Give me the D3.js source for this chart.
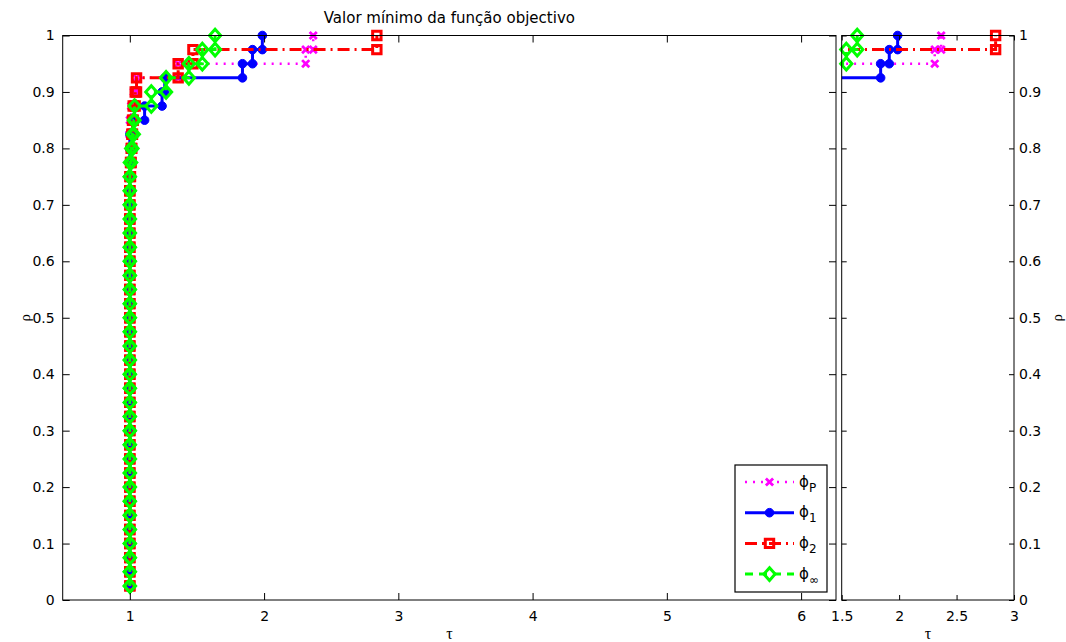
<!DOCTYPE html>
<html>
<head>
<meta charset="utf-8">
<script src="https://cdn.jsdelivr.net/npm/d3@7"></script>
<style>
body { margin: 0; background: #fff; }
svg { display: block; font-family: "DejaVu Sans", sans-serif; }
.axis path.domain { display: none; }
.axis line { stroke: #000; }
.axis text { font-size: 14px; fill: #000; font-family: "DejaVu Sans", sans-serif; }
</style>
</head>
<body>
<svg id="chart" width="1066" height="642"></svg>
<script>
// Performance profile: sorted performance ratios of each solver (40 problems)
const nProblems = 40;

const ratioP = [
    1, 1, 1, 1, 1, 1, 1, 1, 1, 1,
    1, 1, 1, 1, 1, 1, 1, 1, 1, 1,
    1, 1, 1, 1, 1, 1, 1, 1, 1, 1,
    1, 1, 1, 1, 1.01, 1.03, 1.05, 1.36, 2.31, 2.366
];
const ratio1 = [
    1, 1, 1, 1, 1, 1, 1, 1, 1, 1,
    1, 1, 1, 1, 1, 1, 1, 1, 1, 1,
    1, 1, 1, 1, 1, 1, 1, 1, 1, 1,
    1, 1, 1, 1.02, 1.11, 1.24, 1.26, 1.839, 1.914, 1.987
];
const ratio2 = [
    1, 1, 1, 1, 1, 1, 1, 1, 1, 1,
    1, 1, 1, 1, 1, 1, 1, 1, 1, 1,
    1, 1, 1, 1, 1, 1, 1, 1, 1, 1,
    1.005, 1.01, 1.015, 1.02, 1.025, 1.04, 1.05, 1.36, 1.47, 2.84
];
const ratioInf = [
    1, 1, 1, 1, 1, 1, 1, 1, 1, 1,
    1, 1, 1, 1, 1, 1, 1, 1, 1, 1,
    1, 1, 1, 1, 1, 1, 1, 1, 1, 1,
    1, 1.01, 1.02, 1.03, 1.035, 1.16, 1.27, 1.44, 1.54, 1.635
];

const seriesNames = ["P", "1", "2", "\u221e"];
const yTicks = [0, 0.1, 0.2, 0.3, 0.4, 0.5, 0.6, 0.7, 0.8, 0.9, 1];
const xTicksMain = [1, 2, 3, 4, 5, 6];
const xTicksZoom = [1.5, 2, 2.5, 3];
const titleText = "Valor m\u00ednimo da fun\u00e7\u00e3o objectivo";

// styles, in plotting order
const styles = [
    { color: "#ff00ff", dash: "2,6", width: 2.5, marker: "x" },
    { color: "#0000ff", dash: null, width: 3, marker: "o" },
    { color: "#ff0000", dash: "12,5,2,5", width: 3, marker: "s" },
    { color: "#00ff00", dash: "8,6", width: 3, marker: "d" }
];
const allRatios = [ratioP, ratio1, ratio2, ratioInf];

const svg = d3.select("#chart");
svg.append("rect").attr("width", 1066).attr("height", 642).attr("fill", "#fff");

const y = d3.scaleLinear().domain([0, 1]).range([600, 35.5]);

const panels = [
    { id: "main", x: d3.scaleLinear().domain([0.5, 6.26]).range([62.7, 836]), ticks: xTicksMain, tk: 7, labels: "left" },
    { id: "zoom", x: d3.scaleLinear().domain([1.5, 3]).range([841.7, 1014]), ticks: xTicksZoom, tk: 5, labels: "right" }
];

// stairs vertices (like MATLAB's [xx,yy] = stairs(r, rho))
function stairPoints(ratios) {
    const pts = [];
    ratios.forEach((r, i) => {
        if (i > 0) pts.push([r, i / nProblems]);
        pts.push([r, (i + 1) / nProblems]);
    });
    return pts;
}

function markerPath(type) {
    if (type === "x") return "M-3.6,-3.6L3.6,3.6M-3.6,3.6L3.6,-3.6";
    if (type === "s") return "M-4.2,-4.2H4.2V4.2H-4.2Z";
    if (type === "d") return "M0,-6.3L5.6,0L0,6.3L-5.6,0Z";
    return null;
}

function drawMarkers(g, pts, st) {
    if (st.marker === "o") {
        g.selectAll("circle").data(pts).join("circle")
            .attr("cx", d => d[0]).attr("cy", d => d[1])
            .attr("r", 4.3)
            .attr("fill", st.color)
            .attr("stroke", st.color).attr("stroke-width", 1);
    } else {
        g.selectAll("path").data(pts).join("path")
            .attr("transform", d => `translate(${d[0]},${d[1]})`)
            .attr("d", markerPath(st.marker))
            .attr("fill", "none")
            .attr("stroke", st.color)
            .attr("stroke-width", st.marker === "x" ? 2.8 : 3);
    }
}

panels.forEach(p => {
    const [x0, x1] = p.x.range();
    const g = svg.append("g");

    g.append("clipPath").attr("id", "clip-" + p.id)
        .append("rect").attr("x", x0).attr("y", 30).attr("width", x1 - x0).attr("height", 575);

    const line = d3.line().x(d => p.x(d[0])).y(d => y(d[1]));

    allRatios.forEach((ratios, i) => {
        const st = styles[i];
        const pts = stairPoints(ratios);
        const sg = g.append("g");
        sg.append("path")
            .datum(pts)
            .attr("clip-path", `url(#clip-${p.id})`)
            .attr("d", line)
            .attr("fill", "none")
            .attr("stroke", st.color)
            .attr("stroke-width", st.width)
            .attr("stroke-dasharray", st.dash);
        const [d0, d1] = p.x.domain();
        const inside = pts.filter(d => d[0] >= d0 - 1e-9 && d[0] <= d1 + 1e-9)
            .map(d => [p.x(d[0]), y(d[1])]);
        drawMarkers(sg.append("g"), inside, st);
    });

    // box
    g.append("rect")
        .attr("x", x0).attr("y", y(1))
        .attr("width", x1 - x0).attr("height", y(0) - y(1))
        .attr("fill", "none").attr("stroke", "#000").attr("stroke-width", 1);

    const fmt = d => String(d);
    g.append("g").attr("class", "axis").attr("transform", `translate(0,${y(0)})`)
        .call(d3.axisBottom(p.x).tickValues(p.ticks).tickSizeInner(-p.tk).tickSizeOuter(0).tickPadding(11).tickFormat(fmt));
    g.append("g").attr("class", "axis").attr("transform", `translate(0,${y(1)})`)
        .call(d3.axisTop(p.x).tickValues(p.ticks).tickSizeInner(-p.tk).tickSizeOuter(0).tickFormat(""));
    g.append("g").attr("class", "axis").attr("transform", `translate(${x0},0)`)
        .call(d3.axisLeft(y).tickValues(yTicks).tickSizeInner(-p.tk).tickSizeOuter(0).tickPadding(8)
            .tickFormat(p.labels === "left" ? fmt : ""));
    g.append("g").attr("class", "axis").attr("transform", `translate(${x1},0)`)
        .call(d3.axisRight(y).tickValues(yTicks).tickSizeInner(-p.tk).tickSizeOuter(0).tickPadding(5)
            .tickFormat(p.labels === "right" ? fmt : ""));

    // axis labels
    g.append("text")
        .attr("x", (x0 + x1) / 2).attr("y", 639)
        .attr("text-anchor", "middle")
        .style("font-family", "'Liberation Serif', serif").style("font-size", "16px")
        .text("\u03c4");
    const yl = p.labels === "left" ? 26 : 1058;
    g.append("text")
        .attr("transform", `translate(${yl},${y(0.5)}) rotate(-90)`)
        .attr("text-anchor", "middle").attr("dy", "0.25em")
        .style("font-family", "'Liberation Serif', serif").style("font-size", "15px")
        .text("\u03c1");
});

// title
svg.append("text")
    .attr("x", (62.7 + 836) / 2).attr("y", 23)
    .attr("text-anchor", "middle")
    .style("font-size", "15px")
    .text(titleText);

// legend
const legend = svg.append("g");
legend.append("rect")
    .attr("x", 735).attr("y", 465).attr("width", 92).attr("height", 127)
    .attr("fill", "#fff").attr("stroke", "#000").attr("stroke-width", 1.2);

seriesNames.forEach((name, i) => {
    const st = styles[i];
    const ly = 482 + i * 30.7;
    const row = legend.append("g");
    row.append("line")
        .attr("x1", 745).attr("x2", 794).attr("y1", ly).attr("y2", ly)
        .attr("stroke", st.color).attr("stroke-width", st.width)
        .attr("stroke-dasharray", st.dash);
    drawMarkers(row.append("g"), [[769.5, ly]], st);
    const t = row.append("text")
        .attr("x", 799).attr("y", ly + 4.5)
        .style("font-family", "'DejaVu Sans', sans-serif").style("font-size", "15px");
    t.append("tspan").text("\u03d5");
    t.append("tspan").attr("dy", 5)
        .style("font-size", "12px").text(name);
});
</script>
</body>
</html>
